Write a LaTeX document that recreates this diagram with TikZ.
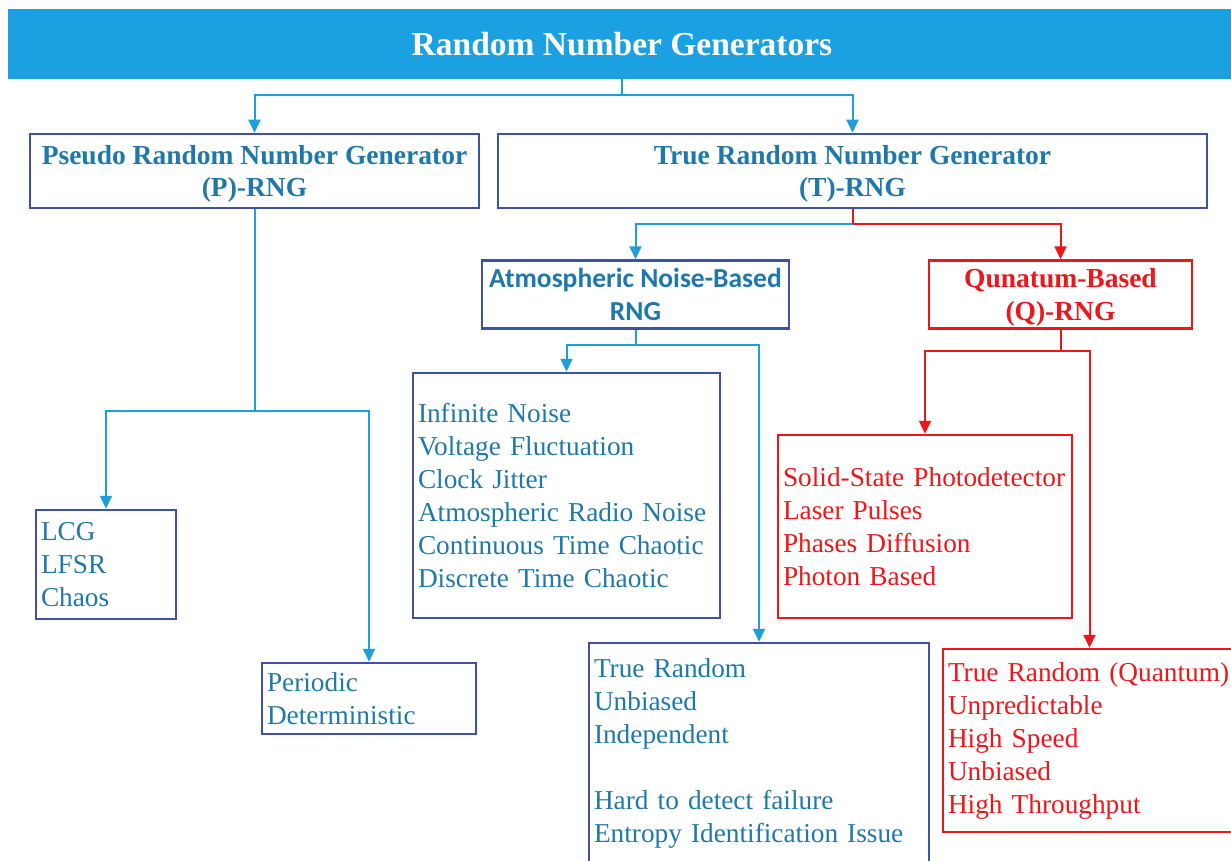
\documentclass[tikz,border=0pt]{standalone}
\usepackage{fontspec}
\setmainfont{Liberation Serif}
\newfontfamily\calibri{Carlito}
\usetikzlibrary{arrows.meta}

\definecolor{barblue}{RGB}{27,161,226}
\definecolor{linkblue}{RGB}{30,158,218}
\definecolor{txtblue}{RGB}{31,120,170}
\definecolor{edgeblue}{RGB}{63,81,163}
\definecolor{qred}{RGB}{238,22,26}

% raises the first line of a heading so the two lines sit a little lower
\newcommand\hdstrut{\rule{0pt}{25pt}}

\tikzset{
  box/.style={draw=edgeblue, line width=2.5pt, inner sep=0pt, text=txtblue},
  headbox/.style={box, align=center, font=\bfseries\fontsize{27.5}{32}\selectfont},
  listbox/.style={box, align=left, inner xsep=5pt, font=\fontsize{27.3}{33}\selectfont},
  redbox/.style={draw=qred, text=qred},
  link/.style={linkblue, line width=2pt},
  conn/.style={link, -{Triangle[length=13pt,width=12pt]}},
  rlink/.style={qred, line width=2pt},
  rconn/.style={rlink, -{Triangle[length=13pt,width=12pt]}},
}

\begin{document}
\begin{tikzpicture}[x=1pt, y={(0pt,-1pt)}]
\useasboundingbox (0,0) rectangle (1231,861);

% title bar
\node[fill=barblue, minimum width=1228pt, minimum height=70pt, inner sep=0pt,
      text=white, font=\bfseries\fontsize{33.5}{40}\selectfont]
  (title) at (622,44) {Random Number Generators};

% first level
\node[headbox, minimum width=449pt, minimum height=74pt] (prng) at (254.5,171)
  {\hdstrut Pseudo Random Number Generator\\(P)-RNG};
\node[headbox, minimum width=709pt, minimum height=74pt] (trng) at (852.5,171)
  {\hdstrut True Random Number Generator\\(T)-RNG};

% second level of the TRNG branch
\node[box, align=center, minimum width=307pt, minimum height=68pt,
      font=\calibri\bfseries\fontsize{27.5}{33}\selectfont] (atm) at (635.5,294.5)
  {Atmospheric Noise-Based\\RNG};
\node[headbox, redbox, minimum width=263pt, minimum height=68pt,
      font=\bfseries\fontsize{27.5}{33}\selectfont] (qrng) at (1060.5,294.5)
  {\hdstrut Qunatum-Based\\(Q)-RNG};

% PRNG leaves
\node[listbox, text width=130pt, minimum height=109pt] (lcg) at (106,564.5)
  {LCG\\LFSR\\Chaos};
\node[listbox, text width=204pt, minimum height=71pt] (periodic) at (369,698.5)
  {Periodic\\Deterministic};

% atmospheric-noise leaves
\node[listbox, text width=297pt, minimum height=245pt] (inf) at (566.5,495.5)
  {Infinite Noise\\Voltage Fluctuation\\Clock Jitter\\Atmospheric Radio Noise\\Continuous Time Chaotic\\Discrete Time Chaotic};
\node[listbox, text width=330pt, minimum height=221pt] (tr) at (759,753.5)
  {True Random\\Unbiased\\Independent\\[33pt]Hard to detect failure\\Entropy Identification Issue};

% quantum leaves
\node[listbox, redbox, text width=284pt, minimum height=183pt] (ss) at (925,526.5)
  {Solid-State Photodetector\\Laser Pulses\\Phases Diffusion\\Photon Based};
\node[listbox, redbox, text width=283pt, minimum height=183pt] (tq) at (1089.5,740.5)
  {True Random (Quantum)\\Unpredictable\\High Speed\\Unbiased\\High Throughput};

% junction levels
\coordinate (j1) at (0,95);
\coordinate (j2) at (0,411);
\coordinate (j3) at (0,224);
\coordinate (j4) at (0,345);
\coordinate (j5) at (0,351);

% connectors
\draw[link] (title.south) -- (title.south |- j1);
\draw[conn] (title.south |- j1) -| (prng.north);
\draw[conn] (title.south |- j1) -| (trng.north);

\draw[link] (prng.south) -- (prng.south |- j2);
\draw[conn] (prng.south |- j2) -| (lcg.north);
\draw[conn] (prng.south |- j2) -| (periodic.north);

\draw[conn] (trng.south |- j3) -| (atm.north);
\draw[rconn] (trng.south |- j3) -| (qrng.north);
\draw[rlink] (trng.south) -- (trng.south |- j3);

\draw[link] (atm.south) -- (atm.south |- j4);
\draw[conn] (atm.south |- j4) -| (inf.north);
\draw[conn] (atm.south |- j4) -| (tr.north);

\draw[rlink] (qrng.south) -- (qrng.south |- j5);
\draw[rconn] (qrng.south |- j5) -| (ss.north);
\draw[rconn] (qrng.south |- j5) -| (tq.north);
\end{tikzpicture}
\end{document}
